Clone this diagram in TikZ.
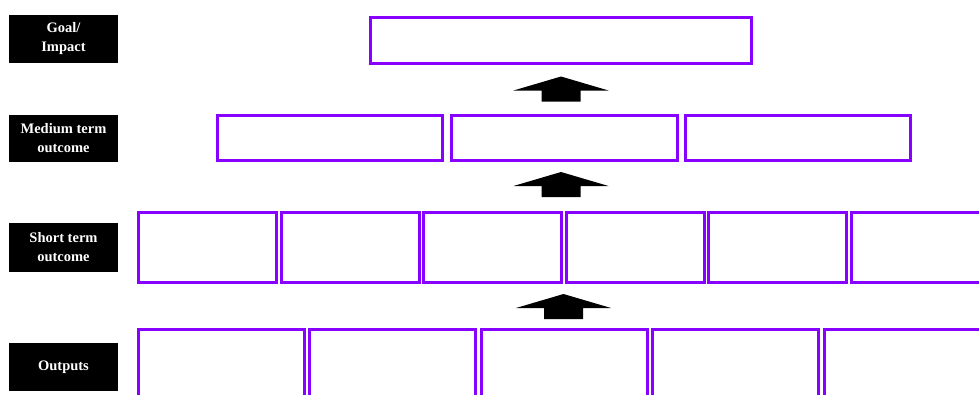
\documentclass[tikz,border=0pt]{standalone}
\usepackage{fontspec}
\setmainfont{Liberation Serif}
\definecolor{boxpurple}{RGB}{136,0,255}
\tikzset{
  lbl/.style={fill=black, text=white, font=\bfseries\fontsize{14.5}{19}\selectfont, align=center, inner sep=0pt},
  pbox/.style={draw=boxpurple, line width=3pt, fill=white},
  blockarrow/.style={fill=black, draw=none}
}
\newcommand{\uparrowat}[2]{%
  \fill[blockarrow] (#1-19.5,-#2) -- (#1-19.5,-#2+11) -- (#1-47.5,-#2+11) -- (#1,-#2+25) -- (#1+47.5,-#2+11) -- (#1+19.5,-#2+11) -- (#1+19.5,-#2) -- cycle;}
\begin{document}
\begin{tikzpicture}[x=1pt,y=1pt]
\useasboundingbox (0,0) rectangle (979,-394);
% labels
\node[lbl, minimum width=109pt, minimum height=48pt] (goal) at (63.5,-39) {Goal/\\Impact};
\node[lbl, minimum width=109pt, minimum height=47pt] (medium) at (63.5,-138.5) {Medium term\\outcome};
\node[lbl, minimum width=109pt, minimum height=49pt] (short) at (63.5,-247.5) {Short term\\outcome};
\node[lbl, minimum width=109pt, minimum height=48pt] (outputs) at (63.5,-367) {Outputs};
% goal box
\node[pbox, minimum width=381pt, minimum height=46pt, inner sep=0pt] (g1) at (561,-40.5) {};
% medium boxes
\node[pbox, minimum width=225pt, minimum height=45pt, inner sep=0pt] (m1) at (330,-138) {};
\node[pbox, minimum width=226pt, minimum height=45pt, inner sep=0pt] (m2) at (564.5,-138) {};
\node[pbox, minimum width=225pt, minimum height=45pt, inner sep=0pt] (m3) at (798,-138) {};
% short boxes
\foreach \i/\x in {1/137,2/279.5,3/422,4/564.5,5/707,6/849.5}{
  \node[pbox, minimum width=138pt, minimum height=70pt, inner sep=0pt, anchor=north west] (s\i) at (\x,-210.5) {};
}
% output boxes
\foreach \i/\x in {1/136.5,2/308,3/479.5,4/651,5/822.5}{
  \node[pbox, minimum width=166pt, minimum height=80pt, inner sep=0pt, anchor=north west] (o\i) at (\x,-327.5) {};
}
% block arrows
\uparrowat{561}{101.5}
\uparrowat{561}{197}
\uparrowat{563.5}{319}
\end{tikzpicture}
\end{document}
